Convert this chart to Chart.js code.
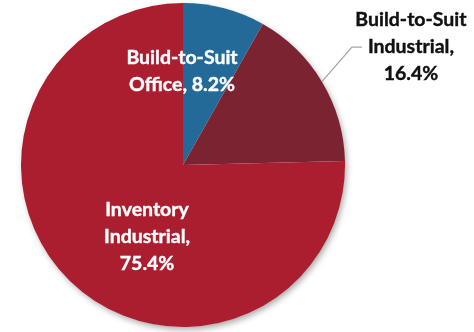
<!DOCTYPE html>
<html>
<head>
<meta charset="utf-8">
<script src="https://cdn.jsdelivr.net/npm/chart.js@4"></script>
<style>
  html, body { margin: 0; padding: 0; background: #ffffff; }
  canvas { display: block; }
</style>
</head>
<body>
<canvas id="chart" width="474" height="332"></canvas>
<script>
// Share of construction by project type
const categories = ['Build-to-Suit Office', 'Build-to-Suit Industrial', 'Inventory Industrial'];
const shares = [8.2, 16.4, 75.4];
const labelLines = [
  ['Build-to-Suit', 'Office, 8.2%'],
  ['Build-to-Suit', 'Industrial,', '16.4%'],
  ['Inventory', 'Industrial,', '75.4%']
];
const sliceColors = ['#246a98', '#7b2330', '#aa1e2f'];

// Label placement relative to the pie centre, in units of the radius
const labelOffsets = [[-0.006, -0.577], [1.407, -0.728], [-0.222, 0.444]];
const labelColors = ['#ffffff', '#111111', '#ffffff'];
const leaderFor = 1;

const pieShadow = {
  id: 'pieShadow',
  beforeDatasetsDraw(chart) {
    const arc = chart.getDatasetMeta(0).data[0];
    if (!arc) return;
    const ctx = chart.ctx;
    ctx.save();
    ctx.shadowColor = 'rgba(0,0,0,0.35)';
    ctx.shadowBlur = 6;
    ctx.shadowOffsetX = 2;
    ctx.shadowOffsetY = 3;
    ctx.fillStyle = '#ffffff';
    ctx.beginPath();
    ctx.arc(arc.x, arc.y, arc.outerRadius - 0.5, 0, Math.PI * 2);
    ctx.fill();
    ctx.restore();
  }
};

const sliceLabels = {
  id: 'sliceLabels',
  afterDatasetsDraw(chart) {
    const meta = chart.getDatasetMeta(0);
    const ctx = chart.ctx;
    const fontSize = 19.5;
    const lineH = 27;
    ctx.save();
    ctx.font = `bold ${fontSize}px Lato, "Open Sans", sans-serif`;
    ctx.textAlign = 'center';
    ctx.textBaseline = 'middle';
    meta.data.forEach((arc, i) => {
      const r = arc.outerRadius;
      const cx = arc.x + labelOffsets[i][0] * r;
      const cy = arc.y + labelOffsets[i][1] * r;
      const lines = labelLines[i];
      const top = cy - (lines.length - 1) * lineH / 2;
      if (i === leaderFor) {
        const mid = (arc.startAngle + arc.endAngle) / 2;
        const x0 = arc.x + Math.cos(mid) * r;
        const y0 = arc.y + Math.sin(mid) * r;
        const yl = top + lineH;
        const xl = cx - 49;
        ctx.strokeStyle = '#a6a6a6';
        ctx.lineWidth = 1.3;
        ctx.beginPath();
        ctx.moveTo(x0, y0);
        ctx.lineTo(xl - 10, yl);
        ctx.lineTo(xl, yl);
        ctx.stroke();
      }
      ctx.fillStyle = labelColors[i];
      ctx.strokeStyle = labelColors[i];
      ctx.lineWidth = 0.4;
      lines.forEach((t, k) => {
        ctx.fillText(t, cx, top + k * lineH);
        ctx.strokeText(t, cx, top + k * lineH);
      });
    });
    ctx.restore();
  }
};

new Chart(document.getElementById('chart'), {
  type: 'pie',
  data: {
    labels: categories,
    datasets: [{
      data: shares,
      backgroundColor: sliceColors,
      borderWidth: 0
    }]
  },
  options: {
    responsive: false,
    animation: false,
    layout: { padding: { left: 21, top: 3, right: 129, bottom: 5 } },
    plugins: {
      legend: { display: false },
      tooltip: { enabled: false }
    }
  },
  plugins: [pieShadow, sliceLabels]
});
</script>
</body>
</html>
